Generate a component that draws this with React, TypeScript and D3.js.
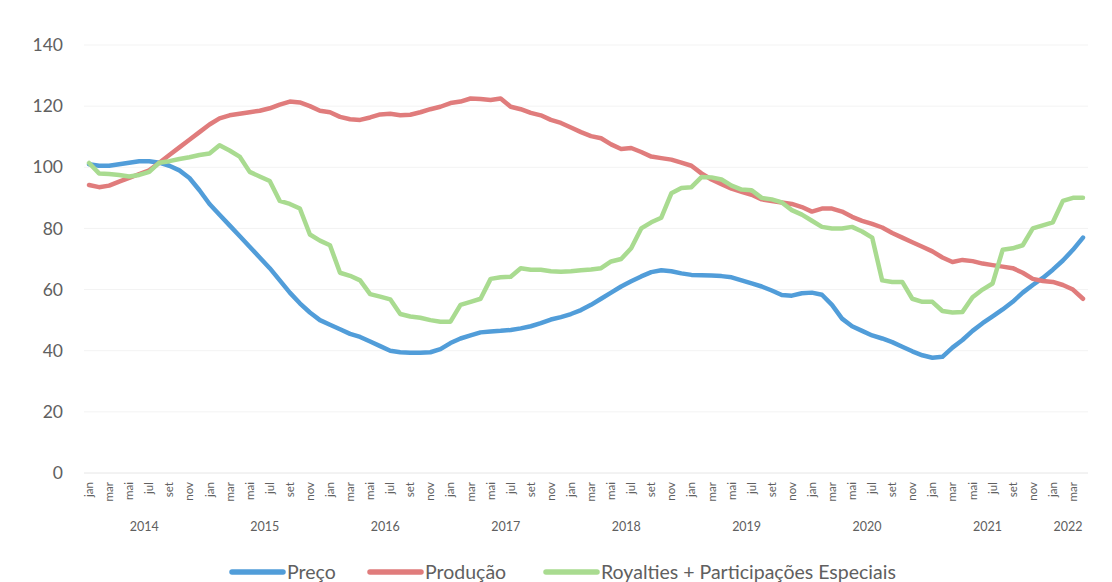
import React, { useEffect, useRef } from 'react';
import * as d3 from 'd3';

const monthNames = ['jan', 'fev', 'mar', 'abr', 'mai', 'jun', 'jul', 'ago', 'set', 'out', 'nov', 'dez'];
const years = [2014, 2015, 2016, 2017, 2018, 2019, 2020, 2021, 2022];
const yTicks = [0, 20, 40, 60, 80, 100, 120, 140];

// jan 2014 .. abr 2022, one value per month
const preco = [
  101, 100.5, 100.5, 101, 101.5, 102, 102, 101.5, 100.5, 99, 96.5, 92.5,
  88, 84.5, 81, 77.5, 74, 70.5, 67, 63, 59, 55.5, 52.5, 50,
  48.5, 47, 45.5, 44.5, 43, 41.5, 40, 39.5, 39.3, 39.3, 39.5, 40.5,
  42.5, 44, 45, 46, 46.3, 46.5, 46.8, 47.3, 48, 49, 50.2, 51,
  52, 53.3, 55, 57, 59, 61, 62.7, 64.3, 65.7, 66.3, 66, 65.3,
  64.8, 64.7, 64.6, 64.4, 64, 63, 62, 61, 59.7, 58.2, 58, 58.8,
  59, 58.3, 55, 50.5, 48, 46.5, 45, 44, 42.8, 41.3, 39.8, 38.5,
  37.7, 38, 41, 43.5, 46.5, 49, 51.2, 53.5, 56, 59, 61.5, 63.8,
  66.5, 69.5, 73, 77
];

const producao = [
  94.2, 93.5, 94, 95.3, 96.5, 97.8, 99, 101.5, 104, 106.5, 109, 111.5,
  114, 116, 117, 117.5, 118, 118.5, 119.3, 120.5, 121.5, 121.2, 120, 118.5,
  118, 116.5, 115.7, 115.5, 116.3, 117.3, 117.5, 117, 117.2, 118, 119, 119.8,
  121, 121.5, 122.5, 122.3, 122, 122.5, 119.8, 119, 117.8, 117, 115.5, 114.5,
  113, 111.5, 110.2, 109.5, 107.5, 106, 106.3, 105, 103.5, 103, 102.5, 101.5,
  100.5, 98, 96, 94.5, 93, 92, 91, 89.5, 89, 88.5, 88, 87,
  85.5, 86.5, 86.5, 85.5, 83.8, 82.5, 81.5, 80.3, 78.5, 77, 75.5, 74,
  72.5, 70.5, 69, 69.7, 69.3, 68.5, 68, 67.5, 67, 65.5, 63.5, 62.8,
  62.5, 61.5, 60, 57
];

const royalties = [
  101.4, 98, 97.8, 97.5, 97, 97.5, 98.5, 101.5, 102, 102.7, 103.3, 104,
  104.5, 107.2, 105.5, 103.5, 98.5, 97, 95.5, 89, 88, 86.5, 78, 76,
  74.5, 65.5, 64.5, 63, 58.5, 57.7, 56.8, 52, 51.2, 50.8, 50, 49.5,
  49.5, 55, 56, 57, 63.5, 64, 64.2, 67, 66.5, 66.5, 66, 65.8,
  66, 66.3, 66.6, 67, 69.2, 70, 73.5, 80, 82, 83.5, 91.5, 93.2,
  93.5, 96.8, 96.7, 96, 94, 92.7, 92.5, 90, 89.5, 88.5, 86, 84.5,
  82.5, 80.5, 80, 80, 80.5, 79, 77, 63, 62.5, 62.5, 57, 56,
  56, 53, 52.5, 52.7, 57.5, 60, 62, 73, 73.5, 74.5, 80, 81,
  82, 89, 90, 90
];

const seriesList = [
  { name: 'Preço', values: preco, color: '#519dd9' },
  { name: 'Produção', values: producao, color: '#e07c7c' },
  { name: 'Royalties + Participações Especiais', values: royalties, color: '#a9db90' }
];

const font = 'Lato, "Open Sans", sans-serif';
const textColor = '#606060';

function LineChart() {
  const ref = useRef<SVGSVGElement>(null);

  useEffect(() => {
    const svg = d3.select(ref.current);
    svg.selectAll('*').remove();

    const months = preco.map((_, i) => ({
      key: i,
      year: years[0] + Math.floor(i / 12),
      label: monthNames[i % 12]
    }));

    const x = d3.scaleBand<number>()
      .domain(months.map(m => m.key))
      .range([84, 1088]);
    const cx = (i: number) => (x(i) as number) + x.bandwidth() / 2;

    const y = d3.scaleLinear().domain([0, 140]).range([473, 45]);

    // gridlines
    svg.append('g')
      .selectAll('line')
      .data(yTicks)
      .join('line')
      .attr('x1', 84).attr('x2', 1088)
      .attr('y1', d => y(d)).attr('y2', d => y(d))
      .attr('stroke', d => d === 0 ? '#e6e6e6' : '#f3f3f3')
      .attr('stroke-width', 1);

    // y labels
    svg.append('g')
      .selectAll('text')
      .data(yTicks)
      .join('text')
      .attr('x', 63)
      .attr('y', d => y(d))
      .attr('dy', '0.35em')
      .attr('text-anchor', 'end')
      .attr('font-family', font)
      .attr('font-size', 17.5)
      .attr('fill', textColor)
      .text(d => d);

    // month labels, every other month
    svg.append('g')
      .selectAll('text')
      .data(months.filter(m => m.key % 2 === 0))
      .join('text')
      .attr('transform', m => `translate(${cx(m.key) + 4},482) rotate(-90)`)
      .attr('text-anchor', 'end')
      .attr('font-family', font)
      .attr('font-size', 11.5)
      .attr('fill', textColor)
      .text(m => m.label);

    // year labels
    const yearGroups = d3.groups(months, m => m.year);
    svg.append('g')
      .selectAll('text')
      .data(yearGroups)
      .join('text')
      .attr('x', ([, ms]) => (cx(ms[0].key) + cx(ms[ms.length - 1].key)) / 2)
      .attr('y', 531)
      .attr('text-anchor', 'middle')
      .attr('font-family', font)
      .attr('font-size', 12.5)
      .attr('fill', textColor)
      .text(([yr]) => yr);

    const line = d3.line<number>()
      .x((_, i) => cx(i))
      .y(d => y(d));

    svg.append('g')
      .selectAll('path')
      .data(seriesList)
      .join('path')
      .attr('d', s => line(s.values))
      .attr('fill', 'none')
      .attr('stroke', s => s.color)
      .attr('stroke-width', 4.5)
      .attr('stroke-linejoin', 'round')
      .attr('stroke-linecap', 'round');

    // legend
    const legendX = [232, 370, 546];
    const leg = svg.append('g')
      .selectAll('g')
      .data(seriesList)
      .join('g')
      .attr('transform', (_, i) => `translate(${legendX[i]},572)`);
    leg.append('line')
      .attr('x1', 0).attr('x2', 51)
      .attr('stroke', s => s.color)
      .attr('stroke-width', 5.5)
      .attr('stroke-linecap', 'round');
    leg.append('text')
      .attr('x', 55)
      .attr('dy', '0.35em')
      .attr('font-family', font)
      .attr('font-size', 19.5)
      .attr('fill', textColor)
      .text(s => s.name);
  }, []);

  return <svg ref={ref} width={1112} height={582} style={{ position: 'absolute', left: 0, top: 0, background: '#fff' }} />;
}

export default function App() {
  return <LineChart />;
}
